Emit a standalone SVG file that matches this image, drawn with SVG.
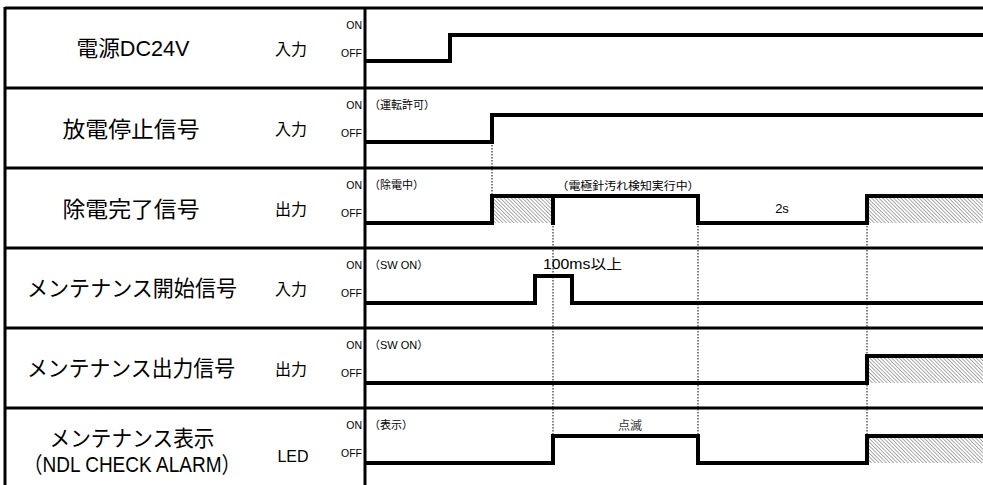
<svg xmlns="http://www.w3.org/2000/svg" width="983" height="485" viewBox="0 0 983 485">
<style>
text{font-family:"Liberation Sans","Noto Sans CJK JP",sans-serif;fill:#000}
.lbl{font-size:22px;text-anchor:middle}
.io{font-size:16px;text-anchor:middle}
.st{font-size:10.5px;text-anchor:end}
.ann{font-size:11px}
.grid{stroke:#000;stroke-width:3;fill:none}
.sig{stroke:#000;stroke-width:4;fill:none;stroke-linejoin:miter;stroke-linecap:square}
.dot{stroke:#000;stroke-width:1;stroke-dasharray:1.5,1.5;fill:none}
.hatch{fill:url(#hp);stroke:none}
</style>
<defs>
<pattern id="hp" width="2.6" height="2.6" patternUnits="userSpaceOnUse" patternTransform="rotate(-45)">
<rect width="2.6" height="2.6" fill="#fff"/>
<line x1="0" y1="0" x2="0" y2="2.6" stroke="#666" stroke-width="1.1"/>
</pattern>
</defs>
<rect width="983" height="485" fill="#fff"/>
<g id="grid">
<line class="grid" x1="5" y1="8" x2="983" y2="8"/>
<line class="grid" x1="5" y1="88" x2="983" y2="88"/>
<line class="grid" x1="5" y1="168" x2="983" y2="168"/>
<line class="grid" x1="5" y1="248" x2="983" y2="248"/>
<line class="grid" x1="5" y1="328" x2="983" y2="328"/>
<line class="grid" x1="5" y1="408" x2="983" y2="408"/>
<line class="grid" x1="5" y1="7" x2="5" y2="485"/>
<line class="grid" x1="365" y1="7" x2="365" y2="485"/>
</g>
<g id="row1">
<text class="lbl" x="133" y="56" textLength="113" lengthAdjust="spacingAndGlyphs">電源DC24V</text>
<text class="io" x="291" y="55">入力</text>
<text class="st" x="362" y="29">ON</text>
<text class="st" x="362" y="57">OFF</text>
</g>
<g id="row2">
<text class="lbl" x="131" y="137" textLength="137" lengthAdjust="spacingAndGlyphs">放電停止信号</text>
<text class="io" x="291" y="135">入力</text>
<text class="st" x="362" y="109">ON</text>
<text class="st" x="362" y="137">OFF</text>
<text class="ann" x="369" y="109">（運転許可）</text>
</g>
<g id="row3">
<text class="lbl" x="131" y="217" textLength="137" lengthAdjust="spacingAndGlyphs">除電完了信号</text>
<text class="io" x="291" y="215">出力</text>
<text class="st" x="362" y="189">ON</text>
<text class="st" x="362" y="217">OFF</text>
<text class="ann" x="369" y="189">（除電中）</text>
<text class="ann" x="628" y="190" text-anchor="middle" textLength="143" lengthAdjust="spacingAndGlyphs">（電極針汚れ検知実行中）</text>
<text x="782" y="213" font-size="13" text-anchor="middle">2s</text>
</g>
<g id="row4">
<text class="lbl" x="132" y="296" textLength="210" lengthAdjust="spacingAndGlyphs">メンテナンス開始信号</text>
<text class="io" x="291" y="295">入力</text>
<text class="st" x="362" y="269">ON</text>
<text class="st" x="362" y="297">OFF</text>
<text class="ann" x="369" y="269">（SW ON）</text>
<text x="543" y="269" font-size="14" textLength="79" lengthAdjust="spacingAndGlyphs">100ms以上</text>
</g>
<g id="row5">
<text class="lbl" x="131" y="376" textLength="208" lengthAdjust="spacingAndGlyphs">メンテナンス出力信号</text>
<text class="io" x="291" y="375">出力</text>
<text class="st" x="362" y="349">ON</text>
<text class="st" x="362" y="377">OFF</text>
<text class="ann" x="369" y="349">（SW ON）</text>
</g>
<g id="row6">
<text class="lbl" x="132" y="446" textLength="165" lengthAdjust="spacingAndGlyphs">メンテナンス表示</text>
<text class="lbl" x="132" y="472" font-size="20" textLength="217" lengthAdjust="spacingAndGlyphs">（NDL CHECK ALARM）</text>
<text class="io" x="293" y="462">LED</text>
<text class="st" x="362" y="429">ON</text>
<text class="st" x="362" y="457">OFF</text>
<text class="ann" x="369" y="429">（表示）</text>
<text x="630" y="430" font-size="12" text-anchor="middle" style="fill:#333">点滅</text>
</g>
<g id="connectors">
<rect class="hatch" x="492" y="196" width="61" height="27"/>
<rect class="hatch" x="867" y="196" width="116" height="27"/>
<rect class="hatch" x="867" y="356" width="116" height="27"/>
<rect class="hatch" x="867" y="436" width="116" height="27"/>
<line class="dot" x1="492" y1="142" x2="492" y2="196"/>
<line class="dot" x1="553" y1="223" x2="553" y2="436"/>
<line class="dot" x1="698" y1="223" x2="698" y2="436"/>
<line class="dot" x1="867" y1="223" x2="867" y2="436"/>
<polyline class="sig" points="367,61 450,61 450,35 985,35"/>
<polyline class="sig" points="367,142 492,142 492,115 985,115"/>
<polyline class="sig" points="367,223 492,223 492,196 698,196 698,223 867,223 867,196 985,196"/>
<line class="sig" x1="553" y1="196" x2="553" y2="223"/>
<polyline class="sig" points="367,303 535,303 535,276 572,276 572,303 985,303"/>
<polyline class="sig" points="367,383 867,383 867,356 985,356"/>
<polyline class="sig" points="367,463 553,463 553,436 698,436 698,463 867,463 867,436 985,436"/>
</g>
</svg>
